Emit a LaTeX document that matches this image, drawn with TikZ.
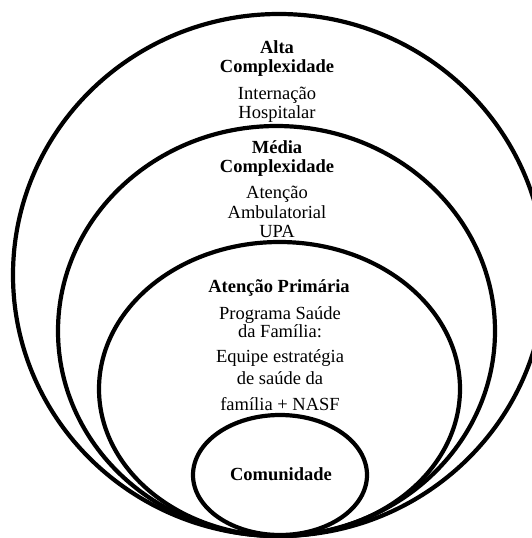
\documentclass[tikz,border=0pt]{standalone}
\usepackage{fontspec}
\setmainfont{Liberation Serif}
\begin{document}
\begin{tikzpicture}[x=1pt,y=-1pt,
  ring/.style={draw=black,line width=4.2pt},
  lbl/.style={anchor=base,inner sep=0pt,font=\fontsize{18.5}{19.5}\selectfont},
  hdr/.style={lbl,font=\fontsize{18.5}{19.5}\selectfont\bfseries}]
\useasboundingbox (0,0) rectangle (532,538);
\clip (0,0) rectangle (532,538);
\fill[white] (0,0) rectangle (532,538);
% rings
\draw[ring] (279,275) ellipse [x radius=266pt, y radius=261pt];
\draw[ring] (276.5,331) ellipse [x radius=218.5pt, y radius=205pt];
\draw[ring] (279.5,389) ellipse [x radius=180.5pt, y radius=147pt];
\draw[ring] (280,475) ellipse [x radius=87pt, y radius=60pt];
% Alta complexidade
\node[hdr] (alta1) at (277,53) {Alta};
\node[hdr] (alta2) at (277,72) {Complexidade};
\node[lbl] (alta3) at (277,99) {Internação};
\node[lbl] (alta4) at (277,118) {Hospitalar};
% Media complexidade
\node[hdr] (med1) at (277,153) {Média};
\node[hdr] (med2) at (277,172) {Complexidade};
\node[lbl] (med3) at (277,198) {Atenção};
\node[lbl] (med4) at (277,218) {Ambulatorial};
\node[lbl] (med5) at (277,237) {UPA};
% Atencao primaria
\node[hdr] (ap1) at (279,292) {Atenção Primária};
\node[lbl] (ap2) at (280,319.5) {Programa Saúde};
\node[lbl] (ap3) at (280,337.5) {da Família:};
\node[lbl] (ap4) at (280,362.5) {Equipe estratégia};
\node[lbl] (ap5) at (280,384) {de saúde da};
\node[lbl] (ap6) at (280,410.5) {família + NASF};
% Comunidade
\node[hdr] (com) at (281,480) {Comunidade};
\end{tikzpicture}
\end{document}
